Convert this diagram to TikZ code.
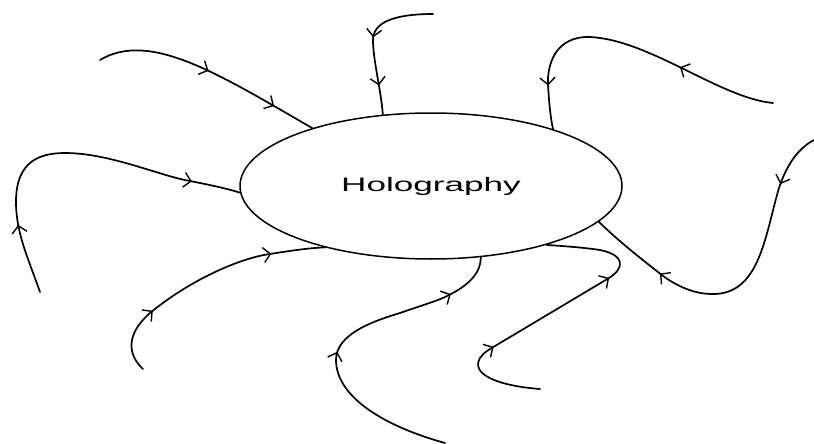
\documentclass[tikz,border=0pt]{standalone}
\usepackage{fontspec}
\usepackage{graphicx}
\setmainfont{Liberation Sans}
\usetikzlibrary{arrows.meta,decorations.markings,shapes.geometric}
\tikzset{
  wire/.style={line width=1.7pt, line cap=round},
  am/.style={postaction={decorate,decoration={markings,
    mark=at position #1 with {\arrow[line width=1.4pt]{Straight Barb[length=7pt,width=15pt]}}}}},
  holo/.style={draw, ellipse, line width=1.5pt, minimum width=382pt, minimum height=146pt, inner sep=0pt,
    font=\fontsize{19.5}{23}\selectfont}
}
\begin{document}
\begin{tikzpicture}[x=1pt,y=-1pt]
\useasboundingbox (0,0) rectangle (814,444);
\node[holo] (H) at (431,186) {\scalebox{1.8}[1]{Holography}};

% curve 1 upper-left
\coordinate (s1) at (100,60);
\draw[wire, am=0.49, am=0.81] (s1) .. controls (150,30) and (220,75) .. (H.154.1);
% curve 2 top
\coordinate (s2) at (433,14);
\draw[wire, am=0.47, am=0.80] (s2) .. controls (395,14) and (373,22) .. (373,40)
  .. controls (373,60) and (381,90) .. (H.124.2);
% curve 3 upper-right
\coordinate (s3) at (773,103);
\draw[wire, am=0.32, am=0.86] (s3) .. controls (720,98) and (650,40) .. (590,37)
  .. controls (555,36) and (547,65) .. (548,85) .. controls (549,100) and (550,115) .. (H.25.3);
% curve 4 right
\coordinate (s4) at (814,140);
\draw[wire, am=0.17, am=0.76] (s4) .. controls (795,150) and (785,170) .. (779,188)
  .. controls (765,235) and (760,295) .. (712,294)
  .. controls (690,294) and (670,282) .. (658,272)
  .. controls (640,258) and (615,238) .. (H.-12.3);
% curve 5 left
\coordinate (s5) at (40,292);
\draw[wire, am=0.2, am=0.86] (s5) .. controls (28,258) and (17,235) .. (16,205)
  .. controls (15,165) and (35,153) .. (65,153)
  .. controls (110,153) and (160,176) .. (190,181)
  .. controls (210,185) and (225,188) .. (H.182);
% curve 6 lower-left
\coordinate (s6) at (143,369);
\draw[wire, am=0.27, am=0.79] (s6) .. controls (128,355) and (125,335) .. (150,313)
  .. controls (190,280) and (240,258) .. (270,254)
  .. controls (295,250) and (310,248) .. (H.-150.9);
% curve 7 bottom-middle
\coordinate (s7) at (445,443);
\draw[wire, am=0.46, am=0.85] (s7) .. controls (380,425) and (336,395) .. (336,360)
  .. controls (336,335) and (370,322) .. (400,313)
  .. controls (420,306) and (440,300) .. (447,296)
  .. controls (470,285) and (481,272) .. (H.-55.2);
% curve 8 bottom-right
\coordinate (s8) at (540,389);
\draw[wire, am=0.29, am=0.70] (s8) .. controls (500,386) and (470,375) .. (480,358)
  .. controls (484,352) and (490,349) .. (495,346) -- (609,278)
  .. controls (625,268) and (625,255) .. (600,250)
  .. controls (580,247) and (560,246) .. (H.-27.8);
\end{tikzpicture}
\end{document}
